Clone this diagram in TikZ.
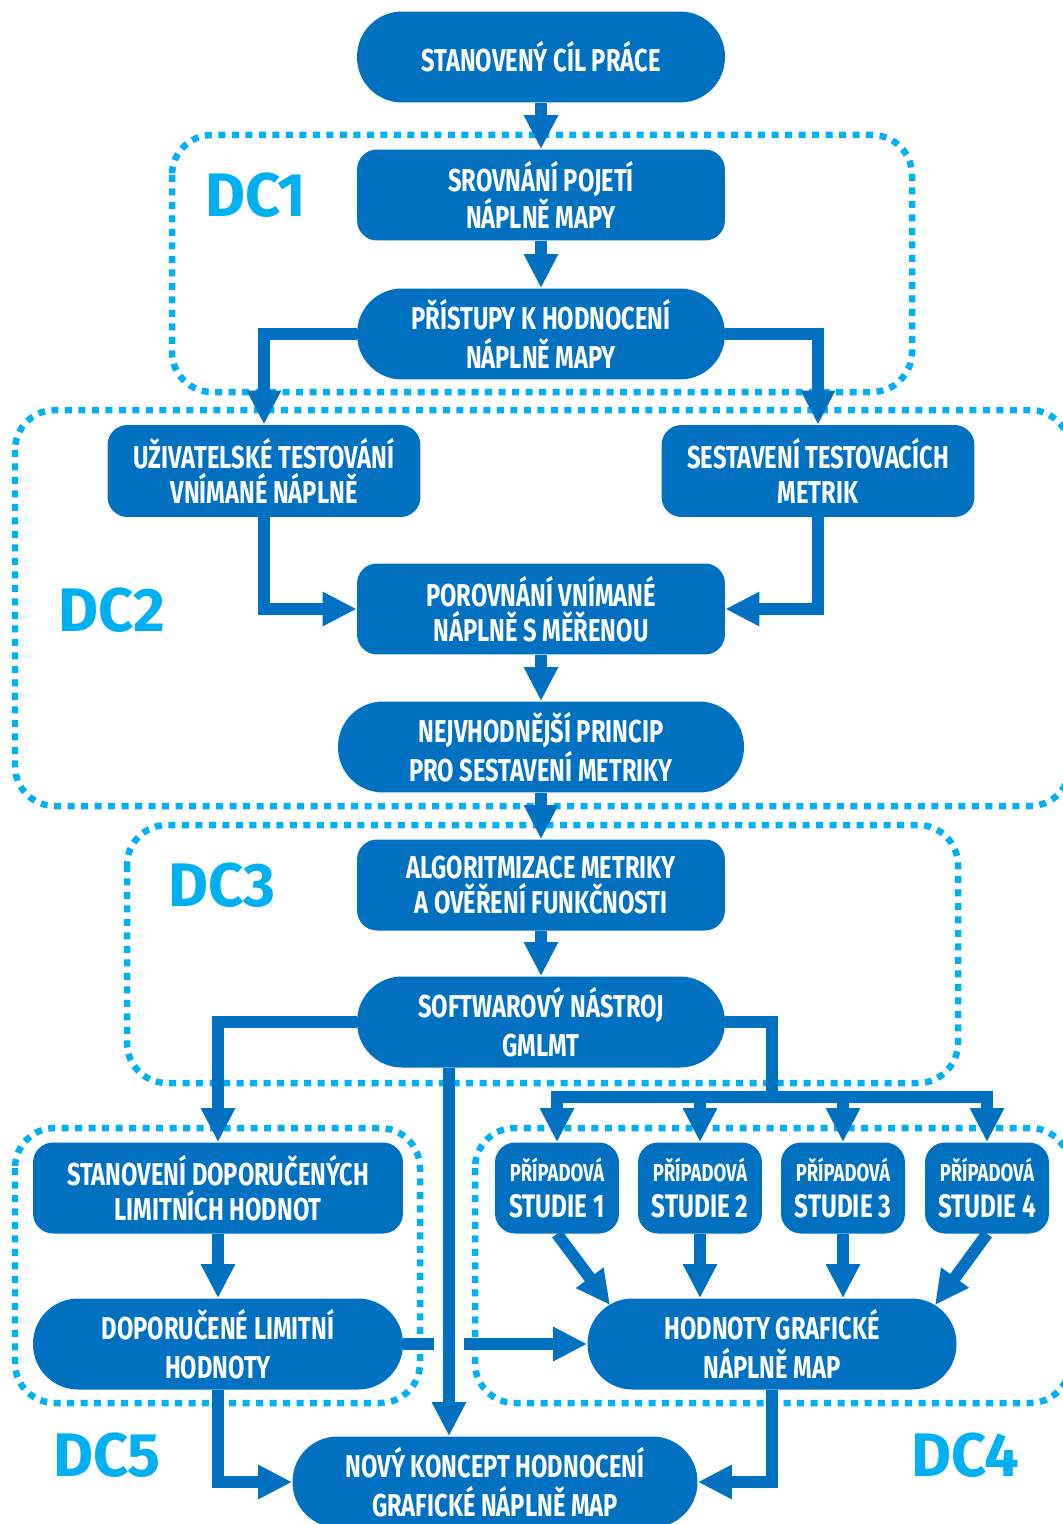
\documentclass[tikz,border=0pt]{standalone}
\usepackage{fontspec}
\setmainfont{Fira Sans}
\newfontfamily\condfont{Fira Sans}[FakeStretch=0.75]
\usepackage{xcolor}
\usepackage{tikz}
\usetikzlibrary{positioning, arrows.meta, calc}
\definecolor{boxblue}{HTML}{0070C0}
\definecolor{zonecyan}{HTML}{00B0F0}

\tikzset{
  box/.style={fill=boxblue, text=white, rounded corners=0.4cm, inner sep=0pt,
              minimum width=7.36cm, minimum height=1.82cm, align=center,
              font=\condfont\bfseries\fontsize{18}{20}\selectfont},
  pill/.style={box, rounded corners=0.9cm,
               font=\condfont\bfseries\fontsize{18}{22}\selectfont},
  study/.style={box, minimum width=2.48cm,
                font=\condfont\bfseries\fontsize{18.5}{19}\selectfont},
  flow/.style={draw=boxblue, line width=0.24cm,
               -{Triangle[length=0.68cm, width=0.64cm]}},
  zone/.style={draw=zonecyan, line width=0.13cm,
               dash pattern=on 0.14cm off 0.13cm, rounded corners=0.8cm},
  zonelabel/.style={text=zonecyan, inner sep=0pt,
                    font=\bfseries\fontsize{35}{38}\selectfont},
}

\begin{document}
\begin{tikzpicture}[x=0.02cm, y=-0.02cm]
    \useasboundingbox (0,0) rectangle (1062,1524);

    % dotted zones
    \draw[zone] (172,135) rectangle (912,392);
    \draw[zone] (15,410) rectangle (1070,806);
    \draw[zone] (127,825) rectangle (958,1083);
    \draw[zone] (15,1128) rectangle (420,1403);
    \draw[zone] (475,1128) rectangle (1070,1403);

    \node[zonelabel] (dc1) at (256,195) {DC1};
    \node[zonelabel] (dc2) at (112,610) {DC2};
    \node[zonelabel] (dc3) at (222,885) {DC3};
    \node[zonelabel] (dc4) at (965,1455) {DC4};
    \node[zonelabel] (dc5) at (107,1455) {DC5};

    % steps
    \node[pill] (goal) at (541,57) {STANOVENÝ CÍL PRÁCE};
    \node[box] (compare) at (541,195) {SROVNÁNÍ POJETÍ\\NÁPLNĚ MAPY};
    \node[pill] (approach) at (541,334) {PŘÍSTUPY K HODNOCENÍ\\NÁPLNĚ MAPY};
    \node[box, minimum width=6.26cm, minimum height=1.84cm] (usertest) at (264,471)
      {UŽIVATELSKÉ TESTOVÁNÍ\\VNÍMANÉ NÁPLNĚ};
    \node[box, minimum width=6.26cm, minimum height=1.84cm] (metrics) at (818,471)
      {SESTAVENÍ TESTOVACÍCH\\METRIK};
    \node[box] (match) at (541,609) {POROVNÁNÍ VNÍMANÉ\\NÁPLNĚ S MĚŘENOU};
    \node[pill, minimum width=8.12cm] (principle) at (541,747)
      {NEJVHODNĚJŠÍ PRINCIP\\PRO SESTAVENÍ METRIKY};
    \node[box] (algo) at (541,885) {ALGORITMIZACE METRIKY\\A OVĚŘENÍ FUNKČNOSTI};
    \node[pill] (tool) at (541,1022) {SOFTWAROVÝ NÁSTROJ\\GMLMT};
    \node[box, minimum width=7.4cm] (limits) at (218,1188)
      {STANOVENÍ DOPORUČENÝCH\\LIMITNÍCH HODNOT};
    \node[pill, minimum width=7.4cm] (limvals) at (218,1344)
      {DOPORUČENÉ LIMITNÍ\\HODNOTY};
    \foreach \i/\x in {1/557, 2/700, 3/843, 4/987}
      \node[study] (case\i) at (\x,1188)
        {{\fontsize{14}{15}\selectfont PŘÍPADOVÁ}\\[2pt]STUDIE \i};
    \node[pill, minimum width=7.38cm] (values) at (772,1344)
      {HODNOTY GRAFICKÉ\\NÁPLNĚ MAP};
    \node[pill, minimum width=8.1cm] (concept) at (495,1482)
      {NOVÝ KONCEPT HODNOCENÍ\\GRAFICKÉ NÁPLNĚ MAP};

    % helper points
    \coordinate (split) at (772,1097);
    \coordinate (drop) at (449,1068);
    \coordinate (in1) at (610,1305);
    \coordinate (in4) at (935,1305);

    % connectors
    \draw[flow] (goal) -- (compare);
    \draw[flow] (compare) -- (approach);
    \draw[flow] (approach.west) -| (usertest.north);
    \draw[flow] (approach.east) -| (metrics.north);
    \draw[flow] (usertest.south) |- (match.west);
    \draw[flow] (metrics.south) |- (match.east);
    \draw[flow] (match) -- (principle);
    \draw[flow] (principle) -- (algo);
    \draw[flow] (algo) -- (tool);
    \draw[flow] (tool.west) -| (limits.north);
    \draw[flow, -] (tool.east) -| (split);
    \foreach \i in {1,...,4}
      \draw[flow] (split) -| (case\i.north);
    \draw[flow] (limits) -- (limvals);
    \draw[flow] (case1.south) -- (in1);
    \draw[flow] (case2.south) -- (case2.south |- values.north);
    \draw[flow] (case3.south) -- (case3.south |- values.north);
    \draw[flow] (case4.south) -- (in4);
    \draw[flow] (limvals.east) -- (values.west);
    \fill[white] (434,1333) rectangle (464,1355);
    \draw[flow] (drop) -- (drop |- concept.north);
    \draw[flow] (limvals.south) |- (concept.west);
    \draw[flow] (values.south) |- (concept.east);
\end{tikzpicture}
\end{document}
